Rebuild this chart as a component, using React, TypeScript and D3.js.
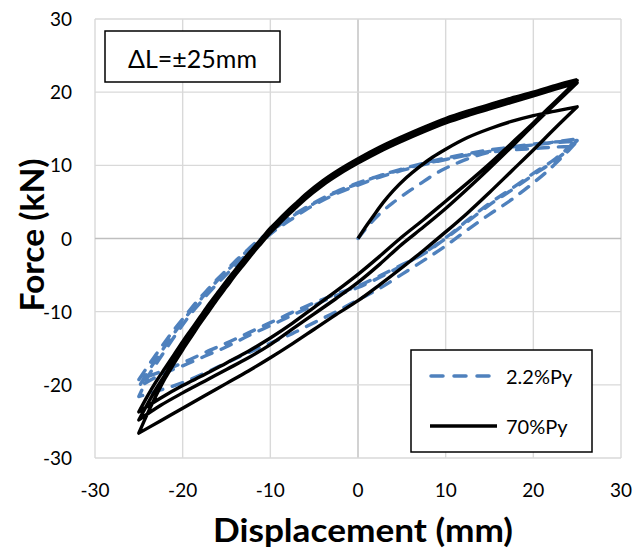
import React from 'react';
import * as d3 from 'd3';

type P = [number, number];

const xTicks = [-30, -20, -10, 0, 10, 20, 30];
const yTicks = [-30, -20, -10, 0, 10, 20, 30];
const seriesNames = ['2.2%Py', '70%Py'];
const annotation = 'ΔL=±25mm';
const xTitle = 'Displacement (mm)';
const yTitle = 'Force (kN)';

// 70%Py (solid black) branches
const blackInit: P[] = [[0,0],[1,1.8],[2,3.5],[3,5.1],[4,6.5],[5.5,8.3],[7,9.8],[8.5,11.1],[10,12.2],[12.5,13.8],[15,15],[17.5,16],[20,16.8],[22.5,17.4],[25,18]];
const blackUnload1: P[] = [[25,18],[22.5,15.1],[20,12.1],[17.5,9.2],[15,6.3],[12.5,3.5],[10,0.9],[7.5,-1.6],[5,-4],[2.5,-6.3],[0,-8.5],[-2.5,-10.4],[-5,-12.4],[-7.5,-14.4],[-10,-16.3],[-12.5,-18.1],[-15,-19.8],[-17.5,-21.5],[-20,-23.2],[-22.5,-24.9],[-25,-26.6]];
const blackReload1: P[] = [[-25,-26.6],[-24,-23.9],[-23,-21.4],[-22,-19.1],[-21,-17.1],[-20,-15.2],[-19,-13.4],[-18,-11.6],[-17,-9.9],[-16,-8.2],[-15,-6.6],[-14,-5],[-13,-3.5],[-12,-2],[-11,-0.6],[-10,0.8],[-9,2],[-8,3.2],[-7,4.3],[-6,5.4],[-4,7.3],[-2,8.9],[0,10.3],[2.5,11.9],[5,13.3],[7.5,14.6],[10,15.8],[12.5,16.8],[15,17.7],[17.5,18.6],[20,19.5],[22.5,20.4],[25,21.3]];
const blackUnload2: P[] = [[25,21.3],[22.5,18.4],[20,15.5],[17.5,12.5],[15,9.6],[12.5,6.8],[10,4.1],[7.5,1.6],[5,-0.8],[2.5,-3.5],[0,-6],[-2.5,-8.2],[-5,-10.3],[-7.5,-12.4],[-10,-14.5],[-12.5,-16.3],[-15,-17.9],[-17.5,-19.5],[-20,-21.1],[-22.5,-22.8],[-25,-24.8]];
const blackReload2: P[] = [[-25,-24.8],[-24,-22.6],[-23,-20.5],[-22,-18.6],[-21,-16.7],[-20,-14.9],[-19,-13.1],[-18,-11.3],[-17,-9.6],[-16,-7.9],[-15,-6.3],[-14,-4.7],[-13,-3.2],[-12,-1.7],[-11,-0.3],[-10,1.1],[-9,2.3],[-8,3.5],[-7,4.6],[-6,5.7],[-4,7.6],[-2,9.2],[0,10.6],[2.5,12.2],[5,13.6],[7.5,14.9],[10,16.1],[12.5,17.1],[15,18],[17.5,18.9],[20,19.8],[22.5,20.7],[25,21.6]];
const blackUnload3: P[] = [[25,21.6],[22.5,18.7],[20,15.8],[17.5,13],[15,10.2],[12.5,7.6],[10,5.1],[7.5,2.6],[5,0.2],[2.5,-2.4],[0,-4.9],[-2.5,-7.2],[-5,-9.4],[-7.5,-11.6],[-10,-13.6],[-12.5,-15.4],[-15,-17],[-17.5,-18.6],[-20,-20.1],[-22.5,-21.8],[-25,-23.7]];
const blackReload3: P[] = [[-25,-23.7],[-24,-21.5],[-23,-19.5],[-22,-17.7],[-21,-15.9],[-20,-14.1],[-19,-12.4],[-18,-10.7],[-17,-9],[-16,-7.4],[-15,-5.8],[-14,-4.3],[-13,-2.8],[-12,-1.4],[-11,0],[-10,1.4],[-9,2.6],[-8,3.8],[-7,4.9],[-6,6],[-4,7.9],[-2,9.5],[0,10.9],[2.5,12.5],[5,13.9],[7.5,15.2],[10,16.4],[12.5,17.4],[15,18.3],[17.5,19.2],[20,20],[22.5,20.9],[25,21.7]];

// 2.2%Py (dashed blue) branches
const blueInit: P[] = [[0,0],[1,1.5],[2.5,3.4],[4,4.9],[5.5,6.2],[7,7.4],[8.5,8.6],[10,9.6],[11.5,10.4],[13,11.1],[15,11.8],[17.5,12.4],[20,12.8],[22.5,13.1],[25,13.3]];
const blueUnload1: P[] = [[25,13.3],[24,12],[23,10.8],[21.5,9.1],[20,7.6],[17.5,5.3],[15,3.3],[12.5,1.2],[10,-1],[7.5,-3],[5,-4.9],[2.5,-6.8],[0,-8.4],[-2.5,-10],[-5,-11.5],[-7.5,-13],[-10,-14.3],[-12.5,-15.6],[-15,-17],[-17.5,-18.4],[-20,-19.7],[-22.5,-20.7],[-25,-21.6]];
const blueReload1: P[] = [[-25,-21.6],[-24.5,-20.3],[-24,-19],[-23,-17.1],[-22,-15.3],[-21,-13.5],[-20,-11.8],[-19,-10.2],[-18,-8.8],[-17,-7.4],[-16,-6.1],[-15,-4.9],[-14,-3.7],[-13,-2.5],[-12,-1.4],[-11,-0.4],[-10,0.6],[-9,1.5],[-8,2.3],[-7,3.1],[-6,3.9],[-5,4.6],[-2.5,6.1],[0,7.3],[2.5,8.4],[5,9.3],[7.5,10.1],[10,10.8],[12.5,11.4],[15,11.9],[17.5,12.4],[20,12.8],[22.5,13.2],[25,13.6]];
const blueUnload2: P[] = [[25,13.6],[24,12.4],[22.5,10.9],[20,8.9],[17.5,6.8],[15,4.8],[12.5,2.5],[10,0.1],[7.5,-2],[5,-3.7],[2.5,-5.3],[0,-6.7],[-2.5,-7.8],[-5,-9.1],[-7.5,-10.5],[-10,-11.9],[-12.5,-13.3],[-15,-14.8],[-17.5,-16.1],[-20,-17.4],[-22.5,-18.6],[-25,-20.3]];
const blueReload2: P[] = [[-25,-20.3],[-24,-18.3],[-23,-16.5],[-22,-14.7],[-21,-13],[-20,-11.3],[-19,-9.8],[-18,-8.4],[-17,-7],[-16,-5.7],[-15,-4.5],[-14,-3.3],[-13,-2.1],[-12,-1],[-11,0],[-10,0.9],[-9,1.8],[-8,2.6],[-7,3.4],[-6,4.1],[-5,4.8],[-2.5,6.3],[0,7.5],[2.5,8.6],[5,9.5],[7.5,10.3],[10,11],[12.5,11.6],[15,12.1],[17.5,12.5],[20,12.9],[22.5,13.2],[25,13.4]];
const blueUnload3: P[] = [[25,13.4],[24,12.2],[22.5,10.7],[20,8.7],[17.5,6.6],[15,4.6],[12.5,2.3],[10,0],[7.5,-2.1],[5,-3.6],[2.5,-5.1],[0,-6.5],[-2.5,-7.6],[-5,-8.8],[-7.5,-10.1],[-10,-11.5],[-12.5,-12.9],[-15,-14.3],[-17.5,-15.6],[-20,-17],[-22.5,-18.2],[-25,-19.3]];
const blueReload3: P[] = [[-25,-19.3],[-24,-17.5],[-23,-15.8],[-22,-14.1],[-21,-12.5],[-20,-11],[-19,-9.5],[-18,-8.1],[-17,-6.8],[-16,-5.5],[-15,-4.3],[-14,-3.1],[-13,-2],[-12,-0.9],[-11,0.1],[-10,1],[-9,1.9],[-8,2.7],[-7,3.5],[-6,4.2],[-5,4.9],[-2.5,6.4],[0,7.6],[2.5,8.6],[5,9.4],[7.5,10.2],[10,10.8],[12.5,11.4],[15,11.8],[17.5,12.1],[20,12.3],[22.5,12.5],[25,12.6]];

const blackBranches = [blackInit, blackUnload1, blackReload1, blackUnload2, blackReload2, blackUnload3, blackReload3];
const blueBranches = [blueInit, blueUnload1, blueReload1, blueUnload2, blueReload2, blueUnload3, blueReload3];

const FONT = 'Lato, "Open Sans", sans-serif';
const BLUE = '#4f81bd';

export default function App() {
  const W = 634, H = 553;
  const x = d3.scaleLinear().domain([-30, 30]).range([95, 621]);
  const y = d3.scaleLinear().domain([-30, 30]).range([458, 19]);
  const seg = d3.line<P>().x(d => x(d[0])).y(d => y(d[1])).curve(d3.curveMonotoneX);
  const joined = (branches: P[][]) =>
    branches.map((b, i) => { const s = seg(b) as string; return i === 0 ? s : 'L' + s.slice(1); }).join('');

  return (
    <svg width={W} height={H} style={{ position: 'absolute', left: 0, top: 0, background: '#fff' }} fontFamily={FONT}>
      <rect x={0} y={0} width={W} height={H} fill="#fff" />
      {/* gridlines */}
      {xTicks.map(t => (
        <line key={'gx' + t} x1={x(t)} x2={x(t)} y1={y(30)} y2={y(-30)} stroke={t === 0 ? '#bfbfbf' : '#d9d9d9'} strokeWidth={1.4} />
      ))}
      {yTicks.map(t => (
        <line key={'gy' + t} x1={x(-30)} x2={x(30)} y1={y(t)} y2={y(t)} stroke={t === 0 ? '#bfbfbf' : '#d9d9d9'} strokeWidth={1.4} />
      ))}
      {/* tick labels */}
      {xTicks.map(t => (
        <text key={'tx' + t} x={x(t)} y={497} textAnchor="middle" fontSize={19} fill="#000">{t}</text>
      ))}
      {yTicks.map(t => (
        <text key={'ty' + t} x={72} y={y(t) + 7} textAnchor="end" fontSize={19} fill="#000">{t}</text>
      ))}
      {/* series */}
      <path d={joined(blueBranches)} fill="none" stroke={BLUE} strokeWidth={3.4} strokeDasharray="11 10" strokeLinecap="round" strokeLinejoin="round" />
      <path d={joined(blackBranches)} fill="none" stroke="#000" strokeWidth={3.4} strokeLinejoin="round" />
      {/* annotation */}
      <rect x={105} y={31} width={175} height={51} fill="#fff" stroke="#000" strokeWidth={1.5} />
      <text x={192.5} y={68} textAnchor="middle" fontSize={25} fill="#000">{annotation}</text>
      {/* legend */}
      <rect x={411} y={350} width={181} height={102} fill="#fff" stroke="#000" strokeWidth={1.5} />
      <line x1={431} x2={496} y1={376} y2={376} stroke={BLUE} strokeWidth={3.5} strokeDasharray="12 11" strokeLinecap="round" />
      <text x={506} y={383.5} fontSize={20} fill="#000">{seriesNames[0]}</text>
      <line x1={430} x2={497} y1={426} y2={426} stroke="#000" strokeWidth={3.5} />
      <text x={506} y={433.5} fontSize={20} fill="#000">{seriesNames[1]}</text>
      {/* axis titles */}
      <text x={363} y={542} textAnchor="middle" fontSize={33} fontWeight="bold" fill="#000" textLength={300} lengthAdjust="spacingAndGlyphs">{xTitle}</text>
      <text transform="translate(44,235) rotate(-90)" textAnchor="middle" fontSize={33} fontWeight="bold" fill="#000" textLength={153} lengthAdjust="spacingAndGlyphs">{yTitle}</text>
    </svg>
  );
}
